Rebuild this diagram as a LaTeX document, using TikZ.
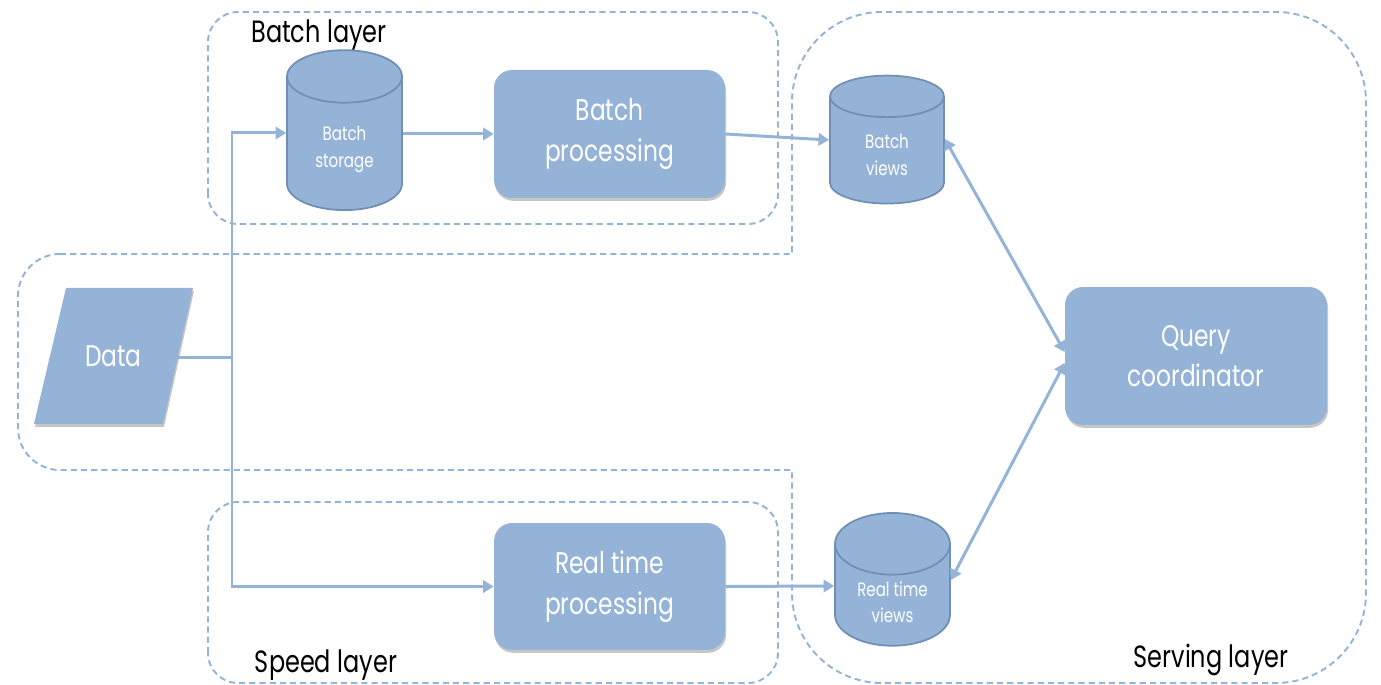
\documentclass[tikz,border=0pt]{standalone}
\usepackage{fontspec}
\setmainfont{Poppins}[FakeStretch=0.78]
\usetikzlibrary{shapes.geometric,arrows.meta,shadows}

\definecolor{boxblue}{HTML}{95B3D7}
\definecolor{rimblue}{HTML}{6F90B4}
\definecolor{dashblue}{HTML}{93B4D6}

\tikzset{
  boxshadow/.style={drop shadow={shadow xshift=0.6pt, shadow yshift=-1.6pt, opacity=0.45}},
  procbox/.style={rectangle, rounded corners=0.36cm, fill=boxblue, text=white,
    align=center, font=\fontsize{17}{23}\selectfont, boxshadow},
  store/.style={cylinder, shape border rotate=90, aspect=0.75, draw=rimblue,
    line width=1pt, fill=boxblue, text=white, align=center,
    font=\fontsize{11}{15}\selectfont},
  layerbox/.style={draw=dashblue, line width=1.1pt, dash pattern=on 3.5pt off 2.3pt},
  layerlabel/.style={font=\fontsize{17.5}{19}\selectfont, text=black},
  conn/.style={draw=boxblue, line width=1.7pt, -{Triangle[length=6pt,width=7pt]}},
  link/.style={draw=boxblue, line width=1.7pt,
    {Triangle[length=6pt,width=7pt]}-{Triangle[length=6pt,width=7pt]}}
}

\begin{document}
\begin{tikzpicture}[x=0.02cm,y=0.02cm]
    \useasboundingbox (0,0) rectangle (1381,685);

    % Layers
    \draw[layerbox] (60,431) -- (792,431) -- (792,583)
        arc[start angle=180, end angle=90, radius=90] -- (1276,673)
        arc[start angle=90, end angle=0, radius=90] -- (1366,92)
        arc[start angle=0, end angle=-90, radius=90] -- (882,2)
        arc[start angle=270, end angle=180, radius=90] -- (792,215)
        -- (60,215) arc[start angle=270, end angle=180, radius=42] -- (18,389)
        arc[start angle=180, end angle=90, radius=42] -- cycle;
    \draw[layerbox, rounded corners=0.6cm] (208,461) rectangle (778,673);
    \draw[layerbox, rounded corners=0.6cm] (208,2) rectangle (778,183);

    \node[layerlabel] (batchlabel) at (319,650) {Batch layer};
    \node[layerlabel] (speedlabel) at (326,20) {Speed layer};
    \node[layerlabel] (servlabel) at (1211,25) {Serving layer};

    % Data source
    \fill[boxblue, boxshadow] (66,397) -- (193,397) -- (163,261) -- (34,261) -- cycle;
    \node[text=white, font=\fontsize{17}{23}\selectfont] (data) at (113.5,329) {Data};
    \coordinate (dataout) at (177,327);

    % Batch side
    \node[store, minimum width=2.3cm, minimum height=3.2cm] (batchstore) at (344.5,535.5) {Batch\\storage};
    \node[procbox, minimum width=4.62cm, minimum height=2.56cm] (batchproc) at (609.5,551) {Batch\\processing};
    \node[store, minimum width=2.28cm, minimum height=2.56cm] (batchviews) at (887,530) {Batch\\views};

    % Speed side
    \node[procbox, minimum width=4.62cm, minimum height=2.54cm] (rtproc) at (609.5,98.5) {Real time\\processing};
    \node[store, minimum width=2.3cm, minimum height=2.4cm] (rtviews) at (892.5,83) {Real time\\views};

    % Serving
    \node[procbox, minimum width=5.24cm, minimum height=2.76cm] (query) at (1196,329) {Query\\coordinator};

    % Connectors
    \coordinate (split) at (232,327);
    \coordinate (uptop) at (232,552);
    \coordinate (downlow) at (232,98.5);
    \draw[draw=boxblue, line width=1.7pt] (dataout) -- (split);
    \draw[conn] (split) -- (uptop) -- (batchstore.west |- uptop);
    \draw[conn] (split) -- (downlow) -- (rtproc.west);
    \draw[conn] (batchstore.east |- batchproc.west) -- (batchproc.west);
    \draw[conn] (batchproc.east) -- ([yshift=0.3cm]batchviews.west);
    \draw[conn] (rtproc.east) -- ([yshift=0.32cm]rtviews.west);
    \draw[link] ([yshift=0.08cm]query.west) -- ([yshift=0.32cm]batchviews.east);
    \draw[link] ([yshift=-0.14cm]query.west) -- ([yshift=0.44cm]rtviews.east);
\end{tikzpicture}
\end{document}
